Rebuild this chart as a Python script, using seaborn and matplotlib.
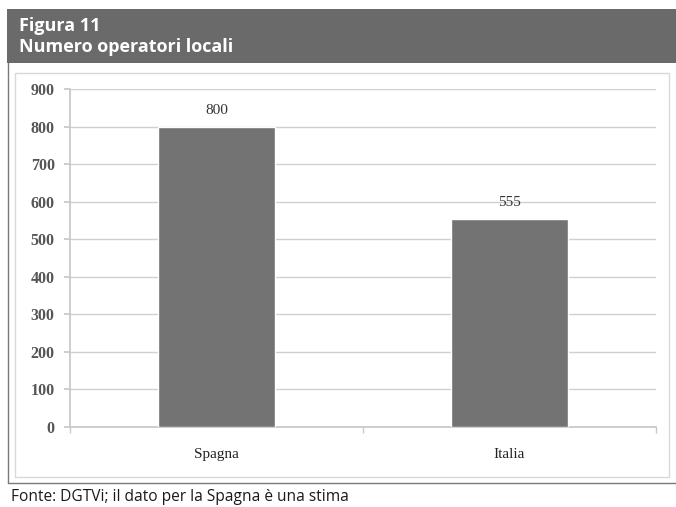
import matplotlib
matplotlib.use("Agg")
import matplotlib.pyplot as plt
from matplotlib.patches import Rectangle
from matplotlib.lines import Line2D
import seaborn as sns
import pandas as pd

# Data
paesi = ["Spagna", "Italia"]
operatori = [800, 555]
y_ticks = [0, 100, 200, 300, 400, 500, 600, 700, 800, 900]

titolo_1 = "Figura 11"
titolo_2 = "Numero operatori locali"
fonte = "Fonte: DGTVi; il dato per la Spagna è una stima"

df = pd.DataFrame({"paese": paesi, "operatori": operatori})

sns.set_theme(style="white")
plt.rcParams["font.family"] = ["Liberation Serif", "DejaVu Serif"]

W, H = 676, 507
fig = plt.figure(figsize=(W / 100, H / 100), dpi=100)
fig.patch.set_facecolor("white")

def fx(px):
    return px / W

def fy(py):
    return 1 - py / H

# Header band
fig.patches.append(Rectangle((fx(7), fy(63)), fx(676 - 7), (54) / H,
                             transform=fig.transFigure, facecolor="#6a6a6a",
                             edgecolor="none", zorder=-2))
# Outer box: left edge and bottom rule
fig.lines.append(Line2D([fx(7.5), fx(7.5)], [fy(63), fy(483)],
                        transform=fig.transFigure, color="#7a7a7a",
                        linewidth=1.0, zorder=-2))
fig.lines.append(Line2D([fx(7.5), fx(676)], [fy(483), fy(483)],
                        transform=fig.transFigure, color="#7a7a7a",
                        linewidth=1.0, zorder=-2))
# Inner chart frame
fig.patches.append(Rectangle((fx(15), fy(477)), fx(669 - 15), (477 - 73) / H,
                             transform=fig.transFigure, facecolor="white",
                             edgecolor="#d8d8d8", linewidth=1.0, zorder=-1))

fig.text(fx(19), fy(26), titolo_1, color="white", fontsize=13,
         fontweight="bold", family=["Open Sans", "DejaVu Sans"], va="center")
fig.text(fx(19), fy(47), titolo_2, color="white", fontsize=13,
         fontweight="bold", family=["Open Sans", "DejaVu Sans"], va="center")
fig.text(fx(11), fy(497), fonte, color="#1a1a1a", fontsize=11.2,
         family=["Open Sans", "DejaVu Sans"], va="center")

ax = fig.add_axes([fx(70), fy(427), fx(656 - 70), (427 - 89) / H])
ax.set_facecolor("none")
sns.barplot(data=df, x="paese", y="operatori", color="#737373",
            width=0.4, saturation=1, ax=ax, zorder=3)

ax.set_ylim(0, 900)
ax.set_xlim(-0.5, 1.5)
ax.set_yticks(y_ticks)
ax.yaxis.grid(True, color="#d0d0d0", linewidth=1.0, zorder=0)
ax.set_axisbelow(True)
for s in ["top", "right"]:
    ax.spines[s].set_visible(False)
ax.spines["left"].set_color("#c8c8c8")
ax.spines["bottom"].set_color("#c8c8c8")
ax.set_xlabel("")
ax.set_ylabel("")

ax.tick_params(axis="y", which="both", left=True, length=4, color="#c8c8c8",
               labelsize=11.5, labelcolor="#555555", pad=7)
for lab in ax.get_yticklabels():
    lab.set_fontweight("bold")
ax.set_xticks([0, 1])
ax.set_xticklabels(paesi)
ax.tick_params(axis="x", bottom=False, labelsize=11, labelcolor="#222222", pad=9)
# Category separator ticks
ax.set_xticks([-0.5, 0.5, 1.5], minor=True)
ax.tick_params(axis="x", which="minor", bottom=True, length=4, color="#c8c8c8")

for i, v in enumerate(operatori):
    ax.text(i, v + 25, str(v), ha="center", va="bottom", fontsize=11,
            color="#333333")

fig.savefig("out.png", dpi=100, facecolor="white")
